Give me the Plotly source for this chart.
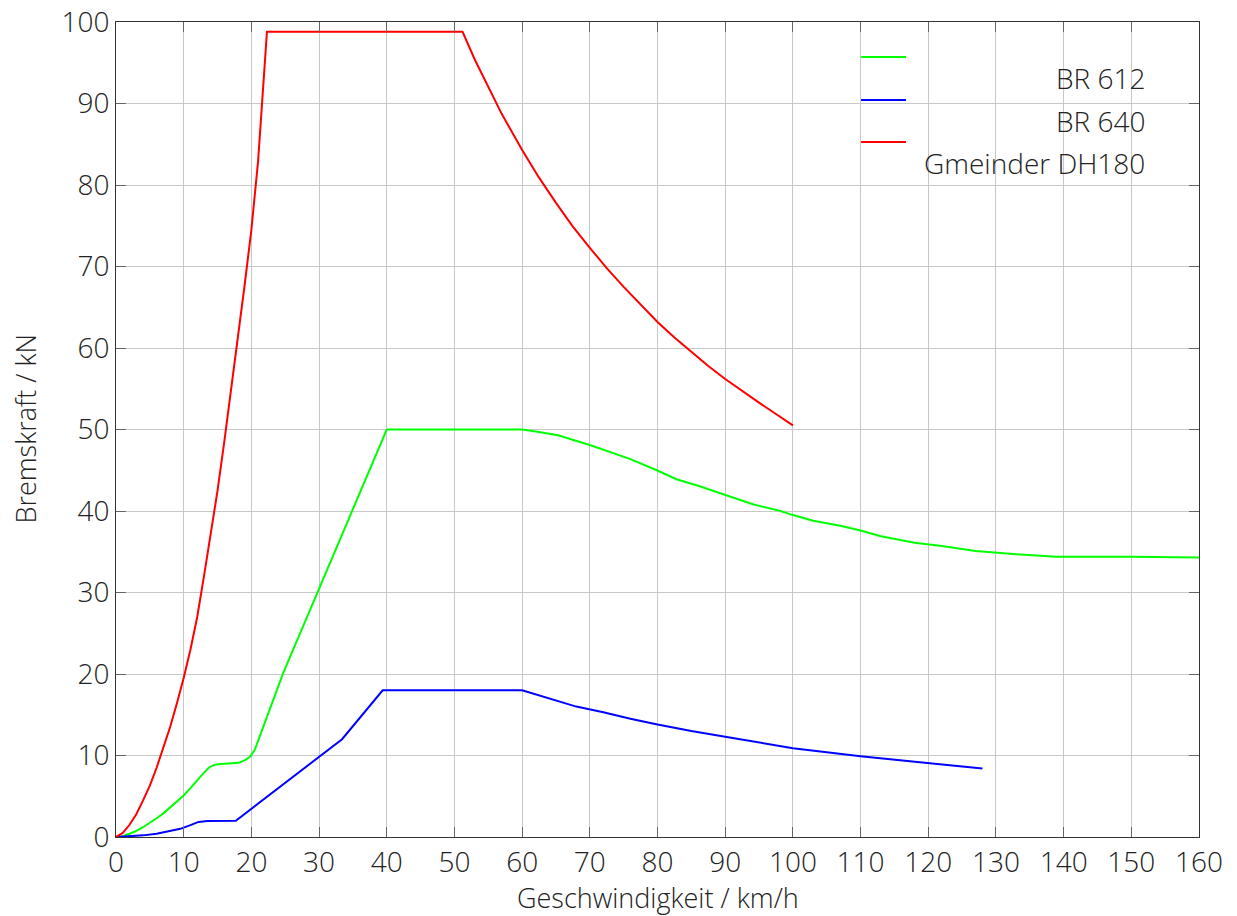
import plotly.graph_objects as go

# Gmeinder DH180 (red)
red_v = [0, 1, 2, 3, 4, 5, 6, 7, 8, 9, 10, 11, 12, 13, 14, 15, 16, 17, 18, 19, 20, 21, 22.3,
         51.2, 53, 55, 57, 60, 62.5, 65, 67.5, 70, 72.5, 75, 77.5, 80, 82.5, 85, 87.5, 90, 92.5, 95, 97.5, 100]
red_f = [0, 0.5, 1.5, 2.8, 4.5, 6.3, 8.5, 10.9, 13.5, 16.4, 19.5, 23, 27, 32, 37, 42.5, 48.5, 54.7, 61, 67.7, 74.5, 83, 98.8,
         98.8, 95.4, 92, 88.7, 84.3, 80.9, 77.8, 74.9, 72.3, 69.8, 67.5, 65.3, 63.2, 61.3, 59.5, 57.8, 56.2, 54.7, 53.3, 51.9, 50.5]

# BR 612 (green)
green_v = [0, 1, 2, 3, 4, 5, 6, 7, 8, 9, 10, 11, 12, 13, 13.7, 14.5, 15.5, 17, 18.1, 19, 19.8, 20.5, 24.7, 40, 60,
           62.5, 65.3, 70, 75.9, 79.9, 82.8, 86, 89.7, 94.2, 98.2, 100, 103, 107, 110, 113, 118, 122, 127, 133, 139, 150, 160]
green_f = [0, 0.1, 0.4, 0.75, 1.2, 1.7, 2.3, 2.9, 3.6, 4.3, 5.1, 6.0, 7.0, 7.9, 8.5, 8.85, 8.95, 9.0, 9.1, 9.4, 9.85, 10.7, 20.1, 50, 50,
           49.7, 49.3, 48.1, 46.4, 45.0, 43.9, 43.1, 42.1, 40.8, 40.0, 39.5, 38.8, 38.2, 37.6, 36.9, 36.1, 35.7, 35.1, 34.7, 34.4, 34.4, 34.3]

# BR 640 (blue)
blue_v = [0, 4, 6, 8, 9.5, 11, 12.2, 13.5, 14.9, 17.7, 33.4, 39.4, 60, 64, 68, 72, 76, 80, 85, 90, 95, 100, 110, 120, 128]
blue_f = [0, 0.2, 0.4, 0.7, 1.0, 1.45, 1.85, 1.97, 2.0, 2.0, 12.0, 18.0, 18.0, 17.0, 16.0, 15.3, 14.5, 13.8, 13.0, 12.3, 11.6, 10.9, 9.9, 9.1, 8.4]

legend_names = ["BR 612", "BR 640", "Gmeinder DH180"]
legend_colors = ["#00ff00", "#0000ff", "#ff0000"]

FONT = "Open Sans"
TXT = "#222222"
FS = 28

fig = go.Figure()
fig.add_trace(go.Scatter(x=green_v, y=green_f, mode="lines", line=dict(color="#00ff00", width=2),
                         name="BR 612", showlegend=False))
fig.add_trace(go.Scatter(x=blue_v, y=blue_f, mode="lines", line=dict(color="#0000ff", width=2),
                         name="BR 640", showlegend=False))
fig.add_trace(go.Scatter(x=red_v, y=red_f, mode="lines", line=dict(color="#ff0000", width=2),
                         name="Gmeinder DH180", showlegend=False))

# manual legend (sample lines offset above labels, as in the reference)
line_y = [0.957, 0.9043, 0.8528]
label_y = [0.9313, 0.8785, 0.827]
for name, col, ly, ty in zip(legend_names, legend_colors, line_y, label_y):
    fig.add_shape(type="line", xref="paper", yref="paper", x0=0.688, x1=0.7295, y0=ly, y1=ly,
                  line=dict(color=col, width=2))
    fig.add_annotation(xref="paper", yref="paper", x=0.951, y=ty, text=name, showarrow=False,
                       xanchor="right", yanchor="middle", borderpad=0,
                       font=dict(size=FS, color=TXT, family=FONT, weight=300))

# axis titles
fig.add_annotation(xref="paper", yref="paper", x=0.5, y=-0.0742, text="Geschwindigkeit / km/h", showarrow=False,
                   xanchor="center", yanchor="middle", borderpad=0,
                   font=dict(size=27, color=TXT, family=FONT, weight=300))
fig.add_annotation(xref="paper", yref="paper", x=-0.084, y=0.5, text="Bremskraft / kN", showarrow=False, textangle=-90,
                   xanchor="center", yanchor="middle", borderpad=0,
                   font=dict(size=27, color=TXT, family=FONT, weight=300))

axis_common = dict(showgrid=True, gridcolor="#c8c8c8", gridwidth=1, showline=True, linecolor="#333",
                   linewidth=1, mirror="allticks", ticks="inside", ticklen=10, tickcolor="#666",
                   zeroline=False, automargin=False,
                   tickfont=dict(size=FS, family=FONT, weight=300, color=TXT))
fig.update_xaxes(range=[0, 160], dtick=10, tick0=0, **axis_common)
fig.update_yaxes(range=[0, 100], dtick=10, tick0=0, **axis_common)
fig.update_layout(width=1237, height=916, margin=dict(l=116, r=38, t=22, b=79),
                  plot_bgcolor="white", paper_bgcolor="white",
                  font=dict(family=FONT, weight=300, size=FS, color=TXT))
fig.write_html("out.html")
